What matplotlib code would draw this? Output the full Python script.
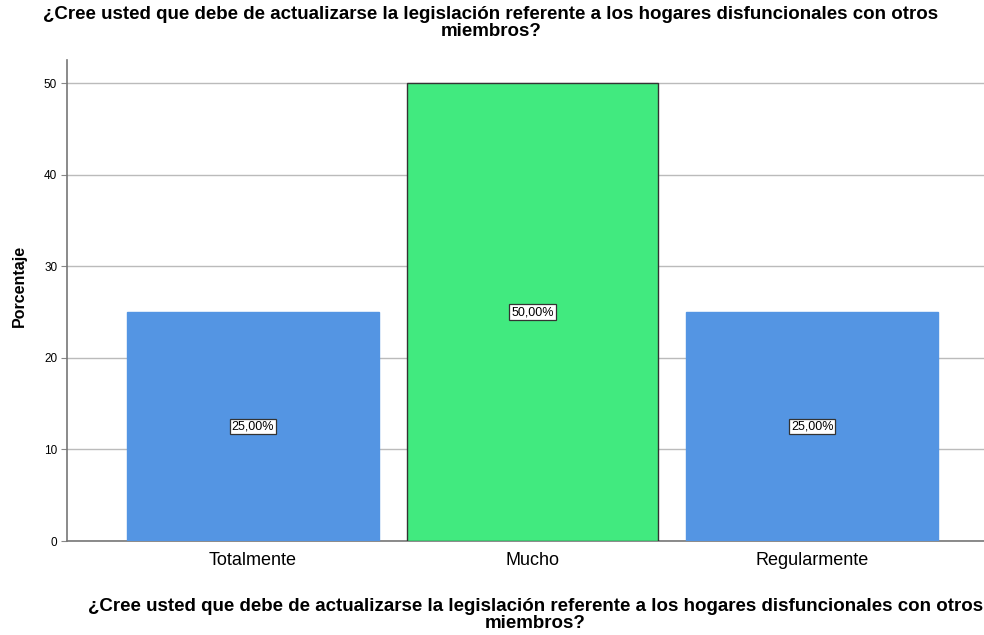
import matplotlib
matplotlib.use("Agg")
import matplotlib.pyplot as plt

# ---------------- DATA ----------------
categories = ["Totalmente", "Mucho", "Regularmente"]
percentages = [25.0, 50.0, 25.0]
bar_colors = ["#5495E3", "#41EA7F", "#5495E3"]
edge_colors = ["#5495E3", "#333333", "#5495E3"]
yticks = [0, 10, 20, 30, 40, 50]

question = ("¿Cree usted que debe de actualizarse la legislación referente a los hogares disfuncionales con otros\n"
            "miembros?")

plt.rcParams["font.family"] = ["Liberation Sans", "DejaVu Sans"]

fig = plt.figure(figsize=(9.84, 6.35), dpi=100)
ax = fig.add_axes([0.068, 0.148, 0.945, 0.757])

x = list(range(len(categories)))
ax.bar(x, percentages, width=0.9, color=bar_colors, edgecolor=edge_colors,
       linewidth=1.0, zorder=3)

# value labels in the middle of each bar
for xi, v in zip(x, percentages):
    ax.text(xi, v / 2, f"{v:.2f}".replace(".", ",") + "%", ha="center", va="center",
            fontsize=9, zorder=4,
            bbox=dict(boxstyle="square,pad=0.15", facecolor="white",
                      edgecolor="#333333", linewidth=0.9))

ax.set_xlim(-0.665, 2.66)
ax.set_ylim(0, 52.5)
ax.set_yticks(yticks)
ax.set_yticklabels([str(t) for t in yticks], fontsize=8.5)
ax.set_xticks(x)
ax.set_xticklabels(categories, fontsize=13)
ax.tick_params(axis="x", length=0, pad=8)
ax.tick_params(axis="y", length=4, color="#888888", pad=3)

ax.yaxis.grid(True, color="#bbbbbb", linewidth=1.0, zorder=0)
ax.set_axisbelow(True)
for side in ["top", "right"]:
    ax.spines[side].set_visible(False)
for side in ["left", "bottom"]:
    ax.spines[side].set_color("#777777")
    ax.spines[side].set_linewidth(1.2)

ax.set_ylabel("Porcentaje", fontsize=11.5, fontweight="bold")
ax.yaxis.set_label_coords(-0.043, 0.53)

fig.text(0.499, 0.99, question, ha="center", va="top", fontsize=13.5,
         fontweight="bold", linespacing=1.0)
fig.text(0.544, 0.058, question, ha="center", va="top", fontsize=13.5,
         fontweight="bold", linespacing=1.0)

fig.savefig("out.png", dpi=100)
